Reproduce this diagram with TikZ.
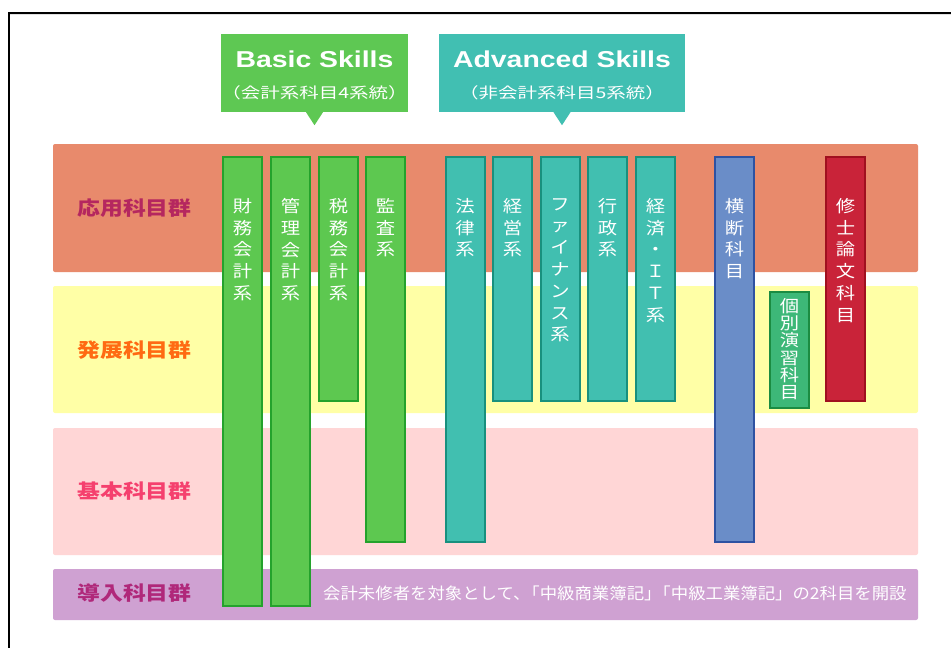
\documentclass[tikz,border=0pt]{standalone}
\usepackage{fontspec}
\newfontfamily\jpbar[FakeStretch=1.15]{Noto Sans CJK JP}
\newfontfamily\jplab[FakeStretch=1.17]{Noto Sans CJK JP}
\newfontfamily\jpsub[FakeStretch=1.3]{Noto Sans CJK JP}
\newfontfamily\jpbot[FakeStretch=1.08]{Noto Sans CJK JP}
\newfontfamily\sklfont[FakeStretch=1.235]{Liberation Sans}
\definecolor{bandA}{HTML}{E88A6C}
\definecolor{bandB}{HTML}{FFFFA6}
\definecolor{bandC}{HTML}{FFD6D6}
\definecolor{bandD}{HTML}{CFA1D2}
\definecolor{gfill}{HTML}{5DC850}
\definecolor{gline}{HTML}{24A22C}
\definecolor{tfill}{HTML}{41BFB0}
\definecolor{tline}{HTML}{18907E}
\definecolor{bfill}{HTML}{6A8DC8}
\definecolor{bline}{HTML}{2E52A2}
\definecolor{rfill}{HTML}{C92339}
\definecolor{rline}{HTML}{A0101F}
\definecolor{ifill}{HTML}{3DB878}
\definecolor{iline}{HTML}{1B8C42}
\definecolor{labA}{HTML}{B5275F}
\definecolor{labB}{HTML}{FF6A12}
\definecolor{labC}{HTML}{F5406E}
\definecolor{labD}{HTML}{B0287A}
\definecolor{calB}{HTML}{5EC853}
\definecolor{calA}{HTML}{41BFB2}
\tikzset{
  band/.style={rounded corners=2pt, inner sep=0pt, draw=none, minimum width=865pt},
  lab/.style={font=\jplab\bfseries\fontsize{19.5}{22}\selectfont, inner sep=0pt},
  barbox/.style={inner sep=0pt, line width=2pt, minimum width=39pt},
  gbar/.style={barbox, fill=gfill, draw=gline},
  tbar/.style={barbox, fill=tfill, draw=tline},
  vt/.style={font=\jpbar\fontsize{16.8}{21.8}\selectfont, align=center, inner sep=0pt, text=white, anchor=north},
  callout/.style={inner sep=0pt, draw=none, minimum height=78pt},
  ttl/.style={font=\sklfont\bfseries\fontsize{23}{26}\selectfont, text=white, inner sep=0pt, anchor=base},
  sub/.style={font=\jpsub\fontsize{15}{18}\selectfont, text=white, inner sep=0pt}
}
\begin{document}
\begin{tikzpicture}[x=1pt,y=-1pt]
\useasboundingbox (0,0) rectangle (951,648);
\fill[white] (0,0) rectangle (951,648);
% frame
\draw[black!12, line width=1pt] (10,14.8) -- (951,14.8);
\draw[black, line width=1.3pt] (9,648) -- (9,13) -- (951,13);

% callouts
\node[callout, fill=calB, minimum width=187pt] (basic) at (314.5,73) {};
\fill[calB] ([xshift=-8.5pt]basic.south) -- ([xshift=8.5pt]basic.south) -- ([yshift=-13pt]basic.south) -- cycle;
\node[ttl] (basict) at ([yshift=5.3pt]basic.center) {Basic Skills};
\node[sub] (basics) at ([yshift=-19.5pt]basic.center) {（会計系科目4系統）};

\node[callout, fill=calA, minimum width=246pt] (adv) at (562,73) {};
\fill[calA] ([xshift=-8.5pt]adv.south) -- ([xshift=8.5pt]adv.south) -- ([yshift=-13pt]adv.south) -- cycle;
\node[ttl] (advt) at ([yshift=5.3pt]adv.center) {Advanced Skills};
\node[sub] (advs) at ([yshift=-19.5pt]adv.center) {（非会計系科目5系統）};

% bands
\node[band, fill=bandA, minimum height=128pt] (oyo) at (485.5,208) {};
\node[band, fill=bandB, minimum height=127pt] (hatten) at (485.5,349.5) {};
\node[band, fill=bandC, minimum height=127pt] (kihon) at (485.5,491.5) {};
\node[band, fill=bandD, minimum height=51pt] (donyu) at (485.5,594.5) {};

\node[lab, text=labA] (l1) at (134.5,208) {応用科目群};
\node[lab, text=labB] (l2) at (134.5,350) {発展科目群};
\node[lab, text=labC] (l3) at (134.5,491) {基本科目群};
\node[lab, text=labD] (l4) at (134.5,593) {導入科目群};

\node[font=\jpbot\fontsize{16.1}{18}\selectfont, text=white, inner sep=0pt, anchor=west] (note) at (323,593) {会計未修者を対象として、\kern-.5em「中級商業簿記」\kern-.5em「中級工業簿記」の2科目を開設};

% basic skill bars
\node[gbar, minimum height=449pt] (zaimu) at (242.5,381.5) {};
\node[gbar, minimum height=449pt] (kanri) at (290.5,381.5) {};
\node[gbar, minimum height=244pt] (zeimu) at (338.5,279) {};
\node[gbar, minimum height=385pt] (kansa) at (385.5,349.5) {};
\node[vt] at ([yshift=-42pt]zaimu.north) {財\\務\\会\\計\\系};
\node[vt] at ([yshift=-42pt]kanri.north) {管\\理\\会\\計\\系};
\node[vt] at ([yshift=-42pt]zeimu.north) {税\\務\\会\\計\\系};
\node[vt] at ([yshift=-42pt]kansa.north) {監\\査\\系};

% advanced skill bars
\node[tbar, minimum height=385pt] (horitsu) at (465,349.5) {};
\node[tbar, minimum height=244pt] (keiei) at (512.5,279) {};
\node[tbar, minimum height=244pt] (finance) at (560,279) {};
\node[tbar, minimum height=244pt] (gyosei) at (607.5,279) {};
\node[tbar, minimum height=244pt] (keizai) at (655.5,279) {};
\node[vt] at ([yshift=-42pt]horitsu.north) {法\\律\\系};
\node[vt] at ([yshift=-42pt]keiei.north) {経\\営\\系};
\node[vt] at ([yshift=-42pt]finance.north) {フ\\ァ\\イ\\ナ\\ン\\ス\\系};
\node[vt] at ([yshift=-42pt]gyosei.north) {行\\政\\系};
\node[vt] at ([yshift=-42pt]keizai.north) {経\\済\\・\\Ｉ\\Ｔ\\系};

% other bars
\node[barbox, fill=bfill, draw=bline, minimum height=385pt] (odan) at (734.5,349.5) {};
\node[vt] at ([yshift=-42pt]odan.north) {横\\断\\科\\目};
\node[barbox, fill=ifill, draw=iline, minimum height=116pt] (kobetsu) at (789.5,350) {};
\node[vt, font=\jpbar\fontsize{16.8}{17.1}\selectfont] at ([yshift=-7.5pt]kobetsu.north) {個\\別\\演\\習\\科\\目};
\node[barbox, fill=rfill, draw=rline, minimum height=244pt] (shushi) at (845.5,279) {};
\node[vt] at ([yshift=-42pt]shushi.north) {修\\士\\論\\文\\科\\目};
\end{tikzpicture}
\end{document}
